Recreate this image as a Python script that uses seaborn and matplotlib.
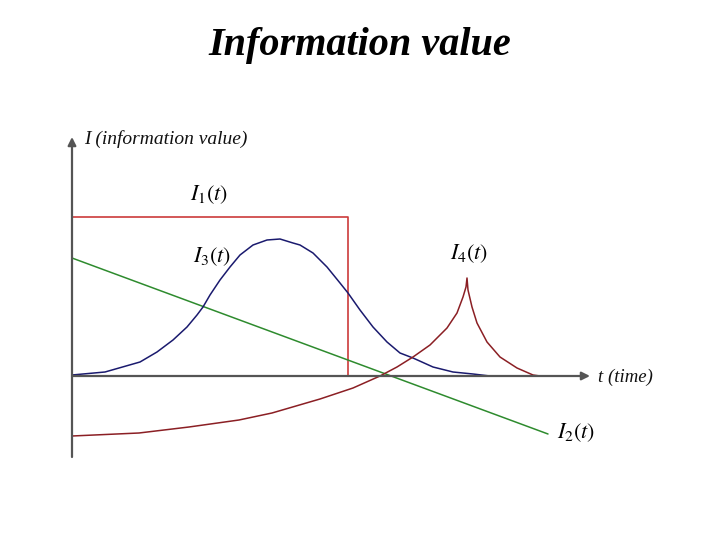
import matplotlib
matplotlib.use("Agg")
import matplotlib.pyplot as plt
import seaborn as sns
import pandas as pd

# Data (t = time units, I = information value units)
i1_t = [0.0, 5.52, 5.52]
i1_v = [3.18, 3.18, 0.0]

i2_t = [0.0, 9.52]
i2_v = [2.36, -1.16]

i3_t = [0.00, 0.66, 1.36, 1.70, 2.02, 2.30, 2.50, 2.62, 2.76, 2.96, 3.16, 3.36, 3.62, 3.90,
        4.16, 4.42, 4.56, 4.82, 5.10, 5.36, 5.52, 5.76, 6.02, 6.30, 6.56, 6.82, 7.22, 7.62,
        8.02, 8.36]
i3_v = [0.02, 0.08, 0.28, 0.48, 0.72, 0.98, 1.22, 1.38, 1.62, 1.92, 2.18, 2.42, 2.62, 2.72,
        2.74, 2.66, 2.62, 2.46, 2.18, 1.86, 1.66, 1.32, 0.98, 0.68, 0.46, 0.36, 0.18, 0.08,
        0.04, 0.0]

i4_t = [0.00, 1.34, 2.34, 3.34, 4.00, 4.96, 5.62, 6.16, 6.50, 6.82, 7.16, 7.50, 7.70, 7.82,
        7.88, 7.90, 7.92, 8.00, 8.10, 8.30, 8.56, 8.90, 9.22, 9.36]
i4_v = [-1.20, -1.14, -1.02, -0.88, -0.74, -0.46, -0.24, 0.00, 0.18, 0.38, 0.62, 0.96, 1.26,
        1.58, 1.78, 1.96, 1.72, 1.38, 1.06, 0.68, 0.38, 0.16, 0.02, 0.0]

labels = ["$I_1(t)$", "$I_2(t)$", "$I_3(t)$", "$I_4(t)$"]
title = "Information value"
ylabel = "I (information value)"
xlabel = "t (time)"

sns.set_theme(style="white")
plt.rcParams["mathtext.fontset"] = "stix"
plt.rcParams["font.family"] = ["Liberation Serif", "DejaVu Serif"]
plt.rcParams["text.color"] = "black"

fig = plt.figure(figsize=(7.2, 5.4), dpi=100)
ax = fig.add_axes([0, 0, 1, 1])
ax.set_xlim(-72 / 50, (720 - 72) / 50)
ax.set_ylim((376 - 540) / 50, 376 / 50)
ax.axis("off")

def draw(t, v, color, lw):
    df = pd.DataFrame({"t": t, "v": v})
    sns.lineplot(data=df, x="t", y="v", sort=False, estimator=None, color=color,
                 linewidth=lw, ax=ax)
    ax.lines[-1].set_solid_joinstyle("round")

draw(i1_t, i1_v, "#cc3b3b", 1.2)
draw(i2_t, i2_v, "#2e8b2e", 1.1)
draw(i3_t, i3_v, "#1a1a6e", 1.1)
draw(i4_t, i4_v, "#8b1f24", 1.1)

axis_color = "#555555"
# y axis
ax.annotate("", xy=(0, (376 - 137) / 50), xytext=(0, (376 - 457) / 50),
            arrowprops=dict(arrowstyle="-|>", color=axis_color, lw=1.6,
                            mutation_scale=12, shrinkA=0, shrinkB=0))
# x axis
ax.annotate("", xy=((590 - 72) / 50, 0), xytext=(0, 0),
            arrowprops=dict(arrowstyle="-|>", color=axis_color, lw=1.6,
                            mutation_scale=12, shrinkA=0, shrinkB=0))

ax.text(12 / 50, (376 - 139) / 50, ylabel, fontsize=14, fontstyle="italic",
        ha="left", va="center", color="#111111")
ax.text((598 - 72) / 50, (376 - 377) / 50, xlabel, fontsize=13.5, fontstyle="italic",
        ha="left", va="center", color="#111111")

ax.text((209 - 72) / 50, (376 - 195) / 50, labels[0], fontsize=16, ha="center", va="center")
ax.text((576 - 72) / 50, (376 - 433) / 50, labels[1], fontsize=16, ha="center", va="center")
ax.text((212 - 72) / 50, (376 - 257) / 50, labels[2], fontsize=16, ha="center", va="center")
ax.text((469 - 72) / 50, (376 - 254) / 50, labels[3], fontsize=16, ha="center", va="center")

fig.text(0.5, 1 - 46 / 540, title, fontsize=29, fontweight="bold", fontstyle="italic",
         ha="center", va="center", color="black")

fig.savefig("out.png", dpi=100)
